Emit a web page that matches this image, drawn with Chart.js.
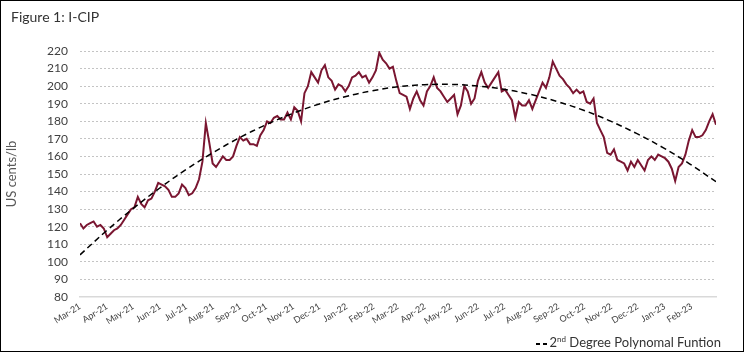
<!DOCTYPE html>
<html lang="en">
<head>
  <meta charset="UTF-8">
  <title>Figure 1: I-CIP</title>
  <script src="https://cdn.jsdelivr.net/npm/chart.js"></script>
  <style>
    body { margin: 0; background: #fff; }
    .wrap { position: relative; width: 747px; height: 354px; font-family: Lato, "Noto Sans", sans-serif; }
    .frame { position: absolute; left: 0; top: 0; width: 744px; height: 352px; box-sizing: border-box; border: 1px solid #000; pointer-events: none; }
    .title { position: absolute; left: 11px; top: 10px; font-size: 14px; line-height: 14px; color: #333; }
    .legend { position: absolute; right: 26px; top: 336px; font-size: 13px; line-height: 13px; color: #333; white-space: nowrap; }
    .legend .dash { display: inline-block; width: 4px; height: 2px; background: #000; vertical-align: middle; margin-right: 3px; }
    .legend sup { font-size: 8px; line-height: 0; }
  </style>
</head>
<body>
<div class="wrap">
  <canvas id="cipChart" width="747" height="354"></canvas>
  <div class="title">Figure 1: I-CIP</div>
  <div class="legend"><span class="dash"></span><span class="dash"></span>2<sup>nd</sup> Degree Polynomal Funtion</div>
  <div class="frame"></div>
</div>

<script>
  // month labels on the x axis (first of each month)
  const monthLabels = ['Mar-21', 'Apr-21', 'May-21', 'Jun-21', 'Jul-21', 'Aug-21', 'Sep-21', 'Oct-21',
    'Nov-21', 'Dec-21', 'Jan-22', 'Feb-22', 'Mar-22', 'Apr-22', 'May-22', 'Jun-22', 'Jul-22',
    'Aug-22', 'Sep-22', 'Oct-22', 'Nov-22', 'Dec-22', 'Jan-23', 'Feb-23'];
  const totalDays = 730; // 1 Mar 2021 to 1 Mar 2023

  // I-CIP, US cents/lb, evenly spaced over the period
  const price = [
    122, 119, 121, 122, 123, 120, 121, 119,
    114, 116, 118, 119, 121, 124, 127, 130,
    131, 137, 133, 131, 135, 136, 140, 145,
    144, 143, 141, 137, 137, 139, 144, 142,
    138, 139, 142, 147, 157, 179, 168, 156,
    154, 157, 160, 158, 158, 160, 166, 171,
    169, 170, 167, 167, 166, 172, 175, 180,
    179, 182, 183, 181, 181, 185, 181, 188,
    186, 180, 196, 200, 208, 205, 202, 209,
    212, 205, 203, 198, 201, 200, 197, 200,
    205, 206, 208, 205, 206, 202, 205, 209,
    219, 215, 213, 210, 211, 203, 196, 195,
    194, 187, 193, 197, 192, 189, 197, 200,
    205, 199, 197, 194, 191, 193, 195, 184,
    189, 200, 197, 190, 193, 203, 208, 202,
    199, 202, 205, 208, 197, 198, 195, 192,
    182, 191, 189, 189, 192, 187, 192, 197,
    202, 199, 205, 214, 210, 206, 204, 201,
    199, 196, 198, 196, 197, 191, 190, 193,
    179, 175, 171, 162, 161, 164, 158, 157,
    156, 152, 157, 154, 158, 155, 152, 158,
    160, 158, 161, 160, 159, 157, 153, 146,
    154, 156, 161, 169, 175, 171, 171, 172,
    175, 180, 184, 178
  ];

  // 2nd degree polynomial trend at evenly spaced dates
  const trend = [104, 117.7, 130.3, 141.9, 152.5, 162.0, 170.5, 177.9, 184.3, 189.7, 194.0, 197.3,
    199.6, 200.8, 201.0, 200.1, 198.2, 195.3, 191.3, 186.3, 180.2, 173.1, 165.0, 155.8, 145.6];

  const yMin = 80, yMax = 220, yStep = 10;

  const start = Date.UTC(2021, 2, 1);
  const monthDays = monthLabels.map((m, i) => (Date.UTC(2021, 2 + i, 1) - start) / 864e5);
  const pricePoints = price.map((v, i) => ({ x: i * totalDays / (price.length - 1), y: v }));
  const trendPoints = trend.map((v, i) => ({ x: i * totalDays / (trend.length - 1), y: v }));

  const fontFamily = 'Lato, "Noto Sans", sans-serif';

  new Chart(document.getElementById('cipChart'), {
    type: 'line',
    data: {
      datasets: [
        { label: 'I-CIP', data: pricePoints, borderColor: '#7a1631', borderWidth: 2, pointRadius: 0, tension: 0, order: 1 },
        { label: '2nd Degree Polynomal Funtion', data: trendPoints, borderColor: '#000', borderWidth: 1.5,
          borderDash: [6, 4], pointRadius: 0, tension: 0.4, order: 0 }
      ]
    },
    options: {
      responsive: false,
      animation: false,
      devicePixelRatio: 1,
      layout: { padding: { top: 51, right: 31, bottom: 0, left: 0 } },
      plugins: { legend: { display: false }, tooltip: { enabled: false } },
      scales: {
        x: {
          type: 'linear',
          min: 0,
          max: totalDays,
          afterBuildTicks: s => { s.ticks = monthDays.map(v => ({ value: v })); },
          afterFit: s => { s.height = 57; },
          grid: { display: false, drawTicks: false },
          border: { display: true, color: '#d9d9d9', width: 1.5 },
          ticks: {
            autoSkip: false, minRotation: 32, maxRotation: 32, padding: 4,
            font: { family: fontFamily, size: 9 }, color: '#404040',
            callback: (v, i) => monthLabels[i]
          }
        },
        y: {
          min: yMin,
          max: yMax,
          afterFit: s => { s.width = 80; },
          grid: { drawTicks: false, color: c => c.tick && c.tick.value === yMin ? 'rgba(0,0,0,0)' : '#c4c4c4' },
          border: { display: false, dash: [2, 2] },
          ticks: { stepSize: yStep, padding: 12, font: { family: fontFamily, size: 12 }, color: '#404040' },
          title: { display: true, text: 'US cents/lb', color: '#595959',
            font: { family: fontFamily, size: 13 }, padding: { top: 4, bottom: 0 } }
        }
      }
    }
  });
</script>
</body>
</html>
